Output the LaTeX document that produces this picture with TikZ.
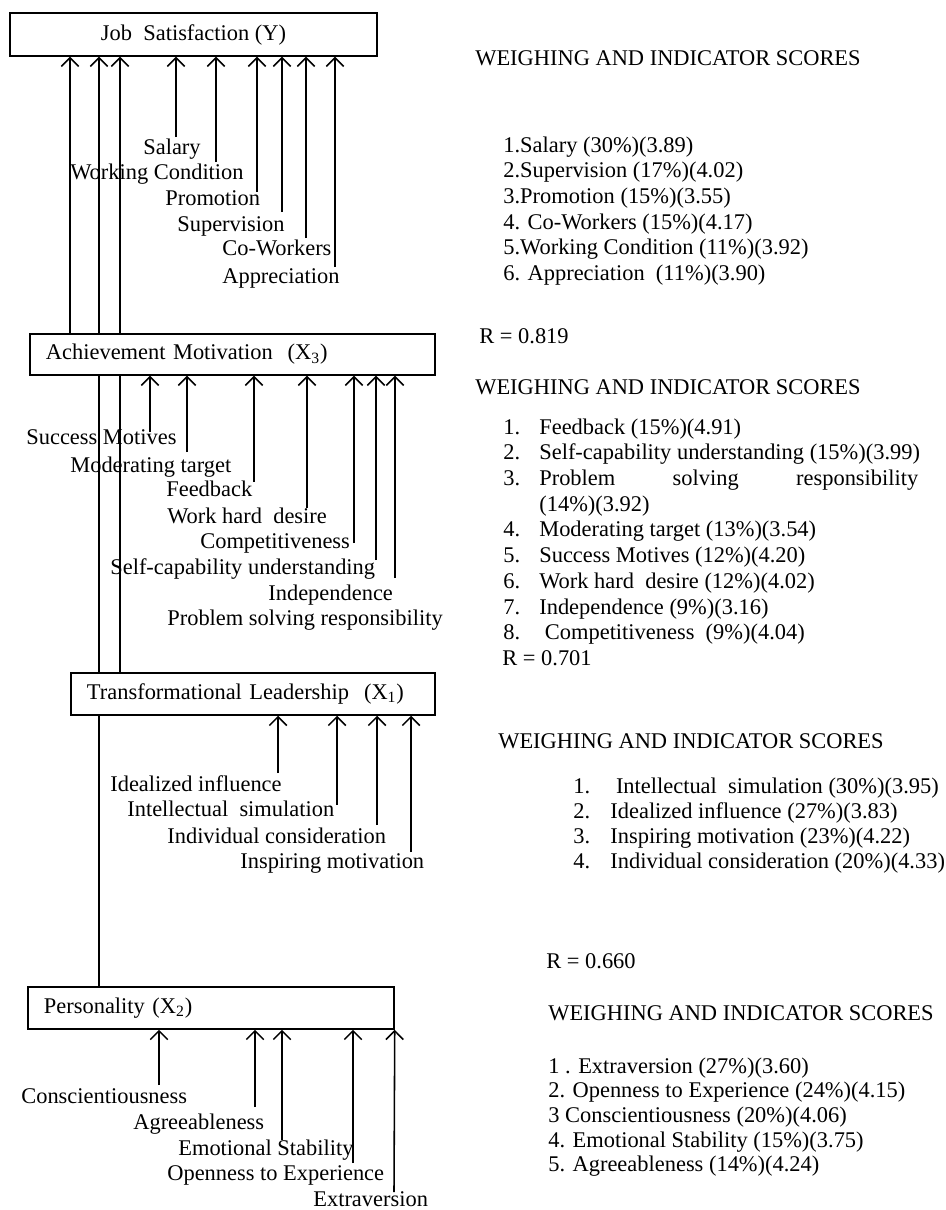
\documentclass[tikz,border=0pt]{standalone}
\usepackage{fontspec}
\setmainfont{Liberation Serif}
\usetikzlibrary{arrows.meta,backgrounds}

\begin{document}
\begin{tikzpicture}[
  x=0.575pt, y=-0.575pt,
  every node/.style={font=\fontsize{12.9}{14.8}\selectfont, inner sep=0pt},
  varbox/.style={
    rectangle, draw=black, line width=0.8pt,
    fill=white, align=left, inner xsep=9.2pt
  },
  ind/.style={anchor=base west},
  score/.style={anchor=base west, align=left},
  arr/.style={-{Straight Barb[length=5pt,width=10pt]}, line width=0.9pt}
]
\useasboundingbox (0,0) rectangle (946,1210);

% Variable boxes
\node[varbox, align=center, minimum width=211pt, minimum height=24.7pt] (js) at (193.5,34.5)
  {Job\ \ Satisfaction (Y)};
\node[varbox, text width=214.5pt, minimum height=23.6pt] (am) at (232.5,354.5)
  {Achievement Motivation\ \ (X\textsubscript{3})};
\node[varbox, text width=190.9pt, minimum height=24.2pt] (tl) at (253,694)
  {Transformational Leadership\ \ (X\textsubscript{1})};
\node[varbox, text width=192.1pt, minimum height=24.2pt] (pers) at (211,1008)
  {Personality (X\textsubscript{2})};

% Paths between variables
\begin{scope}[on background layer]
\draw[arr] (am.north -| 70,0) -- (js.south -| 70,0);
\draw[arr] (pers.north -| 99,0) -- (js.south -| 99,0);
\draw[arr] (tl.north -| 120,0) -- (js.south -| 120,0);
\end{scope}

% Indicators of job satisfaction
\node[ind] (salary) at (143,154) {Salary};
\node[ind] (workcond) at (70,179) {Working Condition};
\node[ind] (promotion) at (165,205) {Promotion};
\node[ind] (supervision) at (177,231) {Supervision};
\node[ind] (coworkers) at (222,255) {Co-Workers};
\node[ind] (appreciation) at (222,283) {Appreciation};

\coordinate (bSalary) at (176,137);
\coordinate (bWorkcond) at (216,162);
\coordinate (bPromotion) at (257,192);
\coordinate (bSupervision) at (282,212);
\coordinate (bCoworkers) at (306,238);
\coordinate (bAppreciation) at (335,267);
\draw[arr] (bSalary) -- (bSalary |- js.south);
\draw[arr] (bWorkcond) -- (bWorkcond |- js.south);
\draw[arr] (bPromotion) -- (bPromotion |- js.south);
\draw[arr] (bSupervision) -- (bSupervision |- js.south);
\draw[arr] (bCoworkers) -- (bCoworkers |- js.south);
\draw[arr] (bAppreciation) -- (bAppreciation |- js.south);

% Indicators of achievement motivation
\node[ind] (success) at (26,444) {Success Motives};
\node[ind] (target) at (70,472) {Moderating target};
\node[ind] (feedback) at (166,496) {Feedback};
\node[ind] (workhard) at (167,523) {Work hard\ \ desire};
\node[ind] (compet) at (200,548) {Competitiveness};
\node[ind] (selfcap) at (110,574) {Self-capability understanding};
\node[ind] (independ) at (268,600) {Independence};
\node[ind] (problem) at (167,625) {Problem solving responsibility};

\coordinate (bSuccess) at (150,432);
\coordinate (bTarget) at (187,452);
\coordinate (bFeedback) at (254,482);
\coordinate (bWorkhard) at (307,508);
\coordinate (bCompet) at (354,543);
\coordinate (bSelfcap) at (376,560);
\coordinate (bIndepend) at (395,578);
\draw[arr] (bSuccess) -- (bSuccess |- am.south);
\draw[arr] (bTarget) -- (bTarget |- am.south);
\draw[arr] (bFeedback) -- (bFeedback |- am.south);
\draw[arr] (bWorkhard) -- (bWorkhard |- am.south);
\draw[arr] (bCompet) -- (bCompet |- am.south);
\draw[arr] (bSelfcap) -- (bSelfcap |- am.south);
\draw[arr] (bIndepend) -- (bIndepend |- am.south);

% Indicators of transformational leadership
\node[ind] (idealized) at (110,791) {Idealized influence};
\node[ind] (intellect) at (127,816) {Intellectual\ \ simulation};
\node[ind] (individual) at (167,843) {Individual consideration};
\node[ind] (inspiring) at (240,868) {Inspiring motivation};

\coordinate (bIdealized) at (278,773);
\coordinate (bIntellect) at (337,805);
\coordinate (bIndividual) at (377,825);
\coordinate (bInspiring) at (411,852);
\draw[arr] (bIdealized) -- (bIdealized |- tl.south);
\draw[arr] (bIntellect) -- (bIntellect |- tl.south);
\draw[arr] (bIndividual) -- (bIndividual |- tl.south);
\draw[arr] (bInspiring) -- (bInspiring |- tl.south);

% Indicators of personality
\node[ind] (consc) at (21,1103) {Conscientiousness};
\node[ind] (agree) at (133,1129) {Agreeableness};
\node[ind] (emotional) at (178,1155) {Emotional Stability};
\node[ind] (openness) at (167,1180) {Openness to Experience};
\node[ind] (extra) at (313,1206) {Extraversion};

\coordinate (bConsc) at (159,1085);
\coordinate (bAgree) at (255,1107);
\coordinate (bEmotional) at (282,1140);
\coordinate (bOpenness) at (353,1163);
\coordinate (bExtra) at (394,1192);
\draw[arr] (bConsc) -- (bConsc |- pers.south);
\draw[arr] (bAgree) -- (bAgree |- pers.south);
\draw[arr] (bEmotional) -- (bEmotional |- pers.south);
\draw[arr] (bOpenness) -- (bOpenness |- pers.south);
\draw[arr] (bExtra) -- (pers.south east);

% Weights and scores
\node[score] (w1) at (475,65) {WEIGHING AND INDICATOR SCORES};
\node[score] (s1) at (503,152) {\begin{tabular}[t]{@{}l@{}}
  1.Salary (30\%)(3.89)\\
  2.Supervision (17\%)(4.02)\\
  3.Promotion (15\%)(3.55)\\
  4. Co-Workers (15\%)(4.17)\\
  5.Working Condition (11\%)(3.92)\\
  6. Appreciation\ \ (11\%)(3.90)
\end{tabular}};
\node[score] (r1) at (479,343) {R = 0.819};

\node[score] (w2) at (475,394) {WEIGHING AND INDICATOR SCORES};
\node[score] (s2) at (503,434) {\begin{tabular}[t]{@{}p{20.7pt}@{}l@{}}
  1. & Feedback (15\%)(4.91)\\
  2. & Self-capability understanding (15\%)(3.99)\\
  3. & \makebox[217.9pt][s]{Problem\hfill solving\hfill responsibility}\\
     & (14\%)(3.92)\\
  4. & Moderating target (13\%)(3.54)\\
  5. & Success Motives (12\%)(4.20)\\
  6. & Work hard\ \ desire (12\%)(4.02)\\
  7. & Independence (9\%)(3.16)\\
  8. & \ Competitiveness\ \ (9\%)(4.04)
\end{tabular}};
\node[score] (r2) at (502,665) {R = 0.701};

\node[score] (w3) at (498,748) {WEIGHING AND INDICATOR SCORES};
\node[score, font=\fontsize{12.9}{14.5}\selectfont] (s3) at (573,793) {\begin{tabular}[t]{@{}p{21.3pt}@{}l@{}}
  1. & \ Intellectual\ \ simulation (30\%)(3.95)\\
  2. & Idealized influence (27\%)(3.83)\\
  3. & Inspiring motivation (23\%)(4.22)\\
  4. & Individual consideration (20\%)(4.33)
\end{tabular}};

\node[score] (r3) at (546,968) {R = 0.660};
\node[score] (w4) at (548,1020) {WEIGHING AND INDICATOR SCORES};
\node[score, font=\fontsize{12.9}{14.2}\selectfont] (s4) at (548,1073) {\begin{tabular}[t]{@{}l@{}}
  1 . Extraversion (27\%)(3.60)\\
  2. Openness to Experience (24\%)(4.15)\\
  3 Conscientiousness (20\%)(4.06)\\
  4. Emotional Stability (15\%)(3.75)\\
  5. Agreeableness (14\%)(4.24)
\end{tabular}};
\end{tikzpicture}
\end{document}
